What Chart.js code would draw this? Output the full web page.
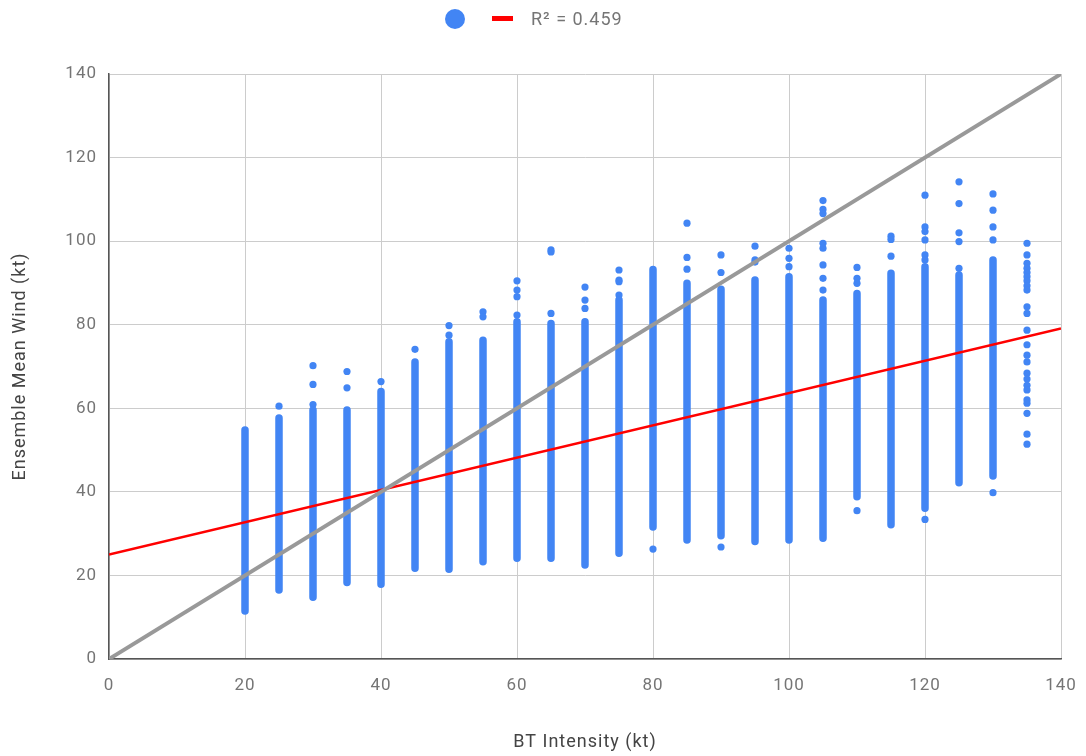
<!DOCTYPE html>
<html lang="en">
<head>
  <meta charset="UTF-8">
  <title>BT Intensity vs Ensemble Mean Wind</title>
  <script src="https://cdn.jsdelivr.net/npm/chart.js"></script>
  <style>
    html, body { margin: 0; padding: 0; background: #fff; }
    #wrap { width: 1086px; height: 756px; }
  </style>
</head>
<body>
  <div id="wrap"><canvas id="scatterChart" width="1086" height="756"></canvas></div>

  <script>
    // BT intensity bins (kt)
    const intensities = [20, 25, 30, 35, 40, 45, 50, 55, 60, 65, 70, 75, 80, 85, 90, 95, 100, 105, 110, 115, 120, 125, 130, 135];
    // dense part of each column (min / max ensemble mean wind, kt); 135 has none
    const denseLow  = [11.5, 16.5, 14.8, 18.3, 17.9, 21.7, 21.5, 23.3, 24.1, 24.1, 22.5, 25.3, 31.6, 28.5, 29.5, 28.1, 28.5, 28.9, 38.8, 32.1, 36.1, 42.2, 43.8, null];
    const denseHigh = [54.8, 57.7, 59.6, 59.6, 64.0, 71.1, 75.9, 76.3, 80.7, 80.3, 80.7, 85.9, 93.2, 89.9, 88.5, 90.7, 91.5, 85.9, 87.5, 92.3, 93.9, 91.9, 95.5, null];
    // isolated points outside the dense part
    const outliers = [
      [],
      [60.5],
      [70.2, 65.7, 60.9],
      [68.8, 64.9],
      [66.4],
      [74.1],
      [79.8, 77.5],
      [83.1, 81.9],
      [90.5, 88.3, 86.7, 82.3],
      [97.9, 97.4, 82.7],
      [89.0, 85.9, 83.9],
      [93.1, 90.7, 90.3, 87.1],
      [26.3],
      [104.3, 96.1, 93.3],
      [96.7, 92.5, 26.8],
      [98.8, 95.5, 95.0],
      [98.3, 95.9, 93.9],
      [109.7, 107.6, 106.6, 99.5, 98.3, 94.3, 91.1, 88.3],
      [93.7, 91.1, 89.9, 35.5],
      [101.2, 100.4, 96.4],
      [111.0, 103.4, 102.3, 100.3, 96.7, 95.5, 33.4],
      [114.2, 109.0, 102.0, 99.9, 93.5],
      [111.3, 107.4, 103.4, 100.3, 39.8],
      [99.5, 96.7, 94.7, 93.5, 92.5, 91.5, 90.5, 89.3, 88.3, 84.3, 82.7, 78.7, 75.2, 72.7, 71.1, 68.4, 67.0, 65.5, 64.4, 62.0, 61.2, 58.8, 53.8, 51.4]
    ];
    // trendline (R² = 0.459) and 1:1 line end points
    const trendX = [0, 140];
    const trendY = [25.0, 79.1];
    const oneToOneX = [0, 140];
    const oneToOneY = [0, 140];
    const axisTicks = [0, 20, 40, 60, 80, 100, 120, 140];
    const trendLabel = 'R² = 0.459';

    const BLUE = '#4285f4';
    const RED = '#ff0000';
    const GREY = '#999999';

    // build datasets
    const columnSegments = [];
    intensities.forEach((x, i) => {
      if (denseLow[i] === null) return;
      columnSegments.push({ x: x, y: denseLow[i] });
      columnSegments.push({ x: x, y: denseHigh[i] });
      columnSegments.push({ x: x, y: null });
    });
    const outlierPoints = [];
    intensities.forEach((x, i) => {
      outliers[i].forEach(y => outlierPoints.push({ x: x, y: y }));
    });

    // the reference text is a bit wider than plain Roboto
    const spacing = {
      id: 'spacing',
      beforeDraw(chart) { chart.ctx.letterSpacing = '1px'; }
    };

    // simple legend drawn on top (blue dot + red trendline)
    const topLegend = {
      id: 'topLegend',
      afterDraw(chart) {
        const ctx = chart.ctx;
        ctx.save();
        ctx.fillStyle = BLUE;
        ctx.beginPath();
        ctx.arc(455, 19, 10, 0, Math.PI * 2);
        ctx.fill();
        ctx.fillStyle = RED;
        ctx.fillRect(492, 16, 21, 5);
        ctx.fillStyle = '#757575';
        ctx.font = '18px Roboto';
        ctx.textBaseline = 'middle';
        ctx.fillText(trendLabel, 531, 20);
        ctx.restore();
      }
    };

    const tickFont = { family: 'Roboto', size: 17 };
    const titleFont = { family: 'Roboto', size: 18 };

    new Chart(document.getElementById('scatterChart').getContext('2d'), {
      type: 'scatter',
      data: {
        datasets: [
          {
            type: 'line',
            label: '1:1',
            data: oneToOneX.map((x, i) => ({ x: x, y: oneToOneY[i] })),
            borderColor: GREY,
            borderWidth: 4,
            pointRadius: 0,
            order: 0
          },
          {
            type: 'line',
            label: trendLabel,
            data: trendX.map((x, i) => ({ x: x, y: trendY[i] })),
            borderColor: RED,
            borderWidth: 2.5,
            pointRadius: 0,
            order: 1
          },
          {
            type: 'line',
            label: 'columns',
            data: columnSegments,
            borderColor: BLUE,
            borderWidth: 7.5,
            borderCapStyle: 'round',
            spanGaps: false,
            pointRadius: 0,
            order: 2
          },
          {
            label: 'points',
            data: outlierPoints,
            backgroundColor: BLUE,
            borderWidth: 0,
            pointRadius: 3.6,
            order: 3
          }
        ]
      },
      options: {
        responsive: false,
        animation: false,
        events: [],
        layout: { padding: { left: 0, right: 25, top: 74, bottom: 0 } },
        plugins: {
          legend: { display: false },
          tooltip: { enabled: false }
        },
        scales: {
          x: {
            type: 'linear',
            min: 0,
            max: 140,
            afterFit: s => { s.height = 97; s.paddingLeft = 0; s.paddingRight = 0; },
            afterBuildTicks: s => { s.ticks = axisTicks.map(v => ({ value: v })); },
            ticks: { font: tickFont, color: '#757575', padding: 17 },
            grid: { color: '#cccccc', drawTicks: false },
            border: { color: '#555555', width: 1.5 },
            title: { display: true, text: 'BT Intensity (kt)', font: titleFont, color: '#444444', padding: { top: 0, bottom: 3 } }
          },
          y: {
            type: 'linear',
            min: 0,
            max: 140,
            afterFit: s => { s.width = 109; s.paddingTop = 0; s.paddingBottom = 0; },
            afterBuildTicks: s => { s.ticks = axisTicks.map(v => ({ value: v })); },
            ticks: { font: tickFont, color: '#757575', padding: 12 },
            grid: { color: '#cccccc', drawTicks: false },
            border: { color: '#555555', width: 1.5 },
            title: { display: true, text: 'Ensemble Mean Wind (kt)', font: titleFont, color: '#444444', padding: { top: 10, bottom: 0 } }
          }
        }
      },
      plugins: [spacing, topLegend]
    });
  </script>
</body>
</html>
